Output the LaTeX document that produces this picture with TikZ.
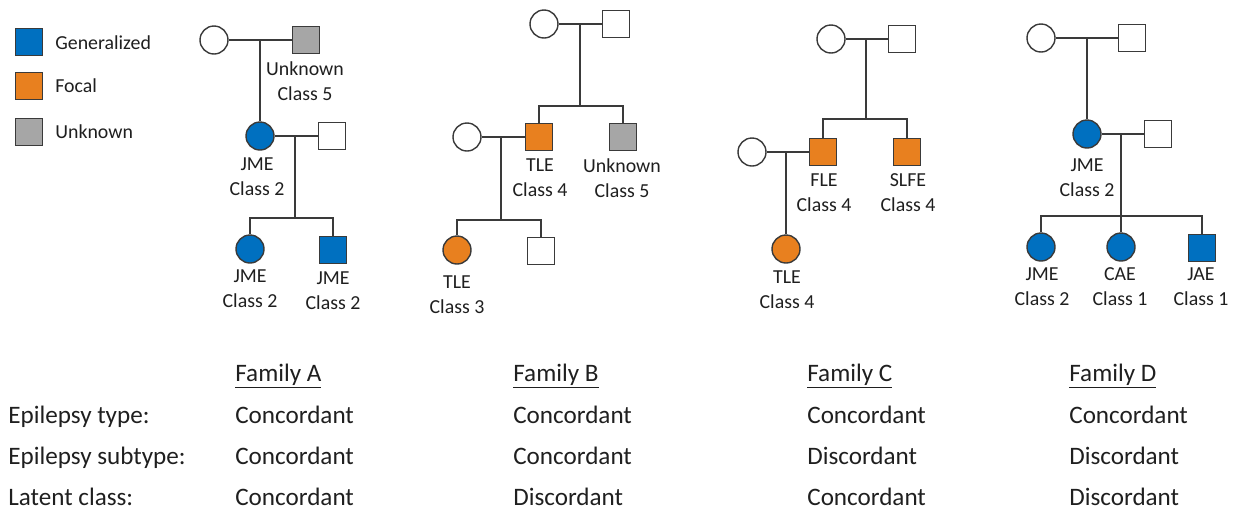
\documentclass[tikz,border=0pt]{standalone}
\usepackage{fontspec}
\setmainfont{Carlito}
\usetikzlibrary{calc}

\definecolor{gen}{HTML}{0070C0}
\definecolor{foc}{HTML}{E8801F}
\definecolor{unk}{HTML}{A6A6A6}
\definecolor{ink}{HTML}{3A3A3A}
\definecolor{txt}{HTML}{1F1F1F}

\tikzset{
    female/.style={circle, draw=ink, line width=0.8pt, fill=white, minimum size=0.56cm, inner sep=0pt},
    male/.style={rectangle, draw=ink, line width=0.8pt, fill=white, minimum size=0.55cm, inner sep=0pt},
    tag/.style={align=center, inner sep=0pt, text=txt, font=\fontsize{11.3}{14.2}\selectfont},
    cell/.style={anchor=base west, inner sep=0pt, text=txt, font=\fontsize{14.3}{17}\selectfont},
    link/.style={draw=ink, line width=0.8pt}
}

\begin{document}
\begin{tikzpicture}[x=0.02cm, y=-0.02cm]

            \useasboundingbox (0,0) rectangle (1244,512);

            % Legend
            \node[male, fill=gen] (kgen) at (29,42) {};
            \node[male, fill=foc] (kfoc) at (29,86) {};
            \node[male, fill=unk] (kunk) at (29,132) {};
            \node[tag, anchor=west] (tgen) at (55,43) {Generalized};
            \node[tag, anchor=west] (tfoc) at (55,86) {Focal};
            \node[tag, anchor=west] (tunk) at (55,132) {Unknown};

            % Family A
            \node[female] (A1) at (214,40) {};
            \node[male, fill=unk] (A2) at (306,40) {};
            \node[female, fill=gen] (A3) at (260,136) {};
            \node[male] (A4) at (332,136) {};
            \node[female, fill=gen] (A5) at (250,249) {};
            \node[male, fill=gen] (A6) at (333,250) {};
            \coordinate (sA) at (295,218);
            \draw[link] (A1) -- (A2);
            \draw[link] (A3.north) -- (A3.north |- A1.center);
            \draw[link] (A3) -- (A4);
            \draw[link] (sA) -- (sA |- A3.center);
            \draw[link] (A5.north) -- (A5.north |- sA) -- (A6.north |- sA) -- (A6.north);
            \node[tag] (lA2) at (305,81) {Unknown\\Class 5};
            \node[tag] (lA3) at (257,177) {JME\\Class 2};
            \node[tag] (lA5) at (250,289) {JME\\Class 2};
            \node[tag] (lA6) at (333,291) {JME\\Class 2};

            % Family B
            \node[female] (B1) at (544,24) {};
            \node[male] (B2) at (616,24) {};
            \node[female] (B3) at (467,137) {};
            \node[male, fill=foc] (B4) at (539,137) {};
            \node[male, fill=unk] (B5) at (623,137) {};
            \node[female, fill=foc] (B6) at (457,250) {};
            \node[male] (B7) at (541,251) {};
            \coordinate (sB1) at (580,106);
            \coordinate (sB2) at (501,220);
            \draw[link] (B1) -- (B2);
            \draw[link] (sB1) -- (sB1 |- B1.center);
            \draw[link] (B4.north) -- (B4.north |- sB1) -- (B5.north |- sB1) -- (B5.north);
            \draw[link] (B3) -- (B4);
            \draw[link] (sB2) -- (sB2 |- B3.center);
            \draw[link] (B6.north) -- (B6.north |- sB2) -- (B7.north |- sB2) -- (B7.north);
            \node[tag] (lB4) at (540,178) {TLE\\Class 4};
            \node[tag] (lB5) at (622,178) {Unknown\\Class 5};
            \node[tag] (lB6) at (457,295) {TLE\\Class 3};

            % Family C
            \node[female] (C1) at (831,39) {};
            \node[male] (C2) at (902,39) {};
            \node[female] (C3) at (752,152) {};
            \node[male, fill=foc] (C4) at (823,152) {};
            \node[male, fill=foc] (C5) at (907,152) {};
            \node[female, fill=foc] (C6) at (786,249) {};
            \coordinate (sC) at (866,119);
            \draw[link] (C1) -- (C2);
            \draw[link] (sC) -- (sC |- C1.center);
            \draw[link] (C4.north) -- (C4.north |- sC) -- (C5.north |- sC) -- (C5.north);
            \draw[link] (C3) -- (C4);
            \draw[link] (C6.north) -- (C6.north |- C3.center);
            \node[tag] (lC4) at (824,193) {FLE\\Class 4};
            \node[tag] (lC5) at (908,193) {SLFE\\Class 4};
            \node[tag] (lC6) at (787,290) {TLE\\Class 4};

            % Family D
            \node[female] (D1) at (1041,38) {};
            \node[male] (D2) at (1132,38) {};
            \node[female, fill=gen] (D3) at (1087,134) {};
            \node[male] (D4) at (1158,134) {};
            \node[female, fill=gen] (D5) at (1041,247) {};
            \node[female, fill=gen] (D6) at (1121,247) {};
            \node[male, fill=gen] (D7) at (1202,248) {};
            \coordinate (sD) at (1121,216);
            \draw[link] (D1) -- (D2);
            \draw[link] (D3.north) -- (D3.north |- D1.center);
            \draw[link] (D3) -- (D4);
            \draw[link] (D6.north) -- (D6.north |- D3.center);
            \draw[link] (D5.north) -- (D5.north |- sD) -- (D7.north |- sD) -- (D7.north);
            \node[tag] (lD3) at (1087,178) {JME\\Class 2};
            \node[tag] (lD5) at (1042,287) {JME\\Class 2};
            \node[tag] (lD6) at (1120,287) {CAE\\Class 1};
            \node[tag] (lD7) at (1201,287) {JAE\\Class 1};

            % Comparison table
            \node[cell] (hA) at (235,381) {\underline{Family A}};
            \node[cell] (hB) at (513,381) {\underline{Family B}};
            \node[cell] (hC) at (807,381) {\underline{Family C}};
            \node[cell] (hD) at (1069,381) {\underline{Family D}};

            \node[cell] (r1) at (8,423) {Epilepsy type:};
            \node[cell] (r2) at (8,464) {Epilepsy subtype:};
            \node[cell] (r3) at (8,505) {Latent class:};

            \node[cell] (a1) at (235,423) {Concordant};
            \node[cell] (a2) at (235,464) {Concordant};
            \node[cell] (a3) at (235,505) {Concordant};
            \node[cell] (b1) at (513,423) {Concordant};
            \node[cell] (b2) at (513,464) {Concordant};
            \node[cell] (b3) at (513,505) {Discordant};
            \node[cell] (c1) at (807,423) {Concordant};
            \node[cell] (c2) at (807,464) {Discordant};
            \node[cell] (c3) at (807,505) {Concordant};
            \node[cell] (d1) at (1069,423) {Concordant};
            \node[cell] (d2) at (1069,464) {Discordant};
            \node[cell] (d3) at (1069,505) {Discordant};

        \end{tikzpicture}
\end{document}
